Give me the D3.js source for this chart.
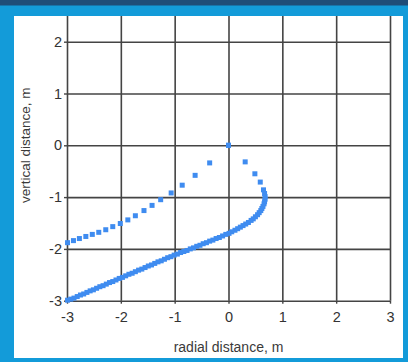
<!DOCTYPE html>
<html>
<head>
<meta charset="utf-8">
<script src="https://cdn.jsdelivr.net/npm/d3@7"></script>
<style>
  body { margin: 0; background: #1f4d78; }
  svg { display: block; }
  text { font-family: "Liberation Sans", Arial, sans-serif; fill: #3a3a3a; }
</style>
</head>
<body>
<div id="chart"></div>
<script>
// tick labels
const xTicks = [-3, -2, -1, 0, 1, 2, 3];
const yTicks = [-3, -2, -1, 0, 1, 2];

// sparse series (x, y in metres)
const sparseX = [0, -0.35, -0.62, -0.86, -1.065, -1.26, -1.42, -1.57, -1.73, -1.87, -2.01, -2.15, -2.28, -2.41, -2.53, -2.65, -2.77, -2.88, -2.99];
const sparseY = [0, -0.34, -0.58, -0.77, -0.92, -1.05, -1.16, -1.26, -1.36, -1.44, -1.51, -1.57, -1.63, -1.68, -1.72, -1.76, -1.80, -1.84, -1.88];

// dense series (x, y in metres)
const denseX = [0, 0.31, 0.49, 0.59, 0.65, 0.67, 0.68, 0.68, 0.67, 0.66, 0.64, 0.62, 0.60, 0.57, 0.54, 0.50, 0.46, 0.42, 0.37, 0.32,
  0.27, 0.22, 0.17, 0.12, 0.06, 0.01, -0.05, -0.11, -0.17, -0.23, -0.29, -0.35, -0.41, -0.47, -0.53, -0.59, -0.65, -0.71, -0.77, -0.83,
  -0.89, -0.95, -1.01, -1.07, -1.13, -1.19, -1.25, -1.31, -1.37, -1.43, -1.49, -1.55, -1.61, -1.67, -1.73, -1.79, -1.85, -1.91, -1.97, -2.03,
  -2.09, -2.15, -2.21, -2.27, -2.33, -2.39, -2.45, -2.51, -2.57, -2.63, -2.69, -2.75, -2.81, -2.87, -2.93, -2.99];
const denseY = [0, -0.32, -0.55, -0.71, -0.86, -0.93, -0.99, -1.04, -1.09, -1.13, -1.18, -1.22, -1.26, -1.30, -1.34, -1.38, -1.42, -1.45, -1.49, -1.52,
  -1.55, -1.58, -1.61, -1.64, -1.67, -1.70, -1.72, -1.75, -1.78, -1.80, -1.83, -1.85, -1.88, -1.90, -1.93, -1.95, -1.98, -2.00, -2.03, -2.05,
  -2.07, -2.10, -2.12, -2.15, -2.17, -2.20, -2.23, -2.25, -2.28, -2.31, -2.33, -2.36, -2.39, -2.41, -2.44, -2.47, -2.49, -2.52, -2.55, -2.57,
  -2.60, -2.63, -2.65, -2.68, -2.71, -2.73, -2.76, -2.79, -2.81, -2.84, -2.87, -2.89, -2.92, -2.95, -2.97, -2.99];

const width = 408, height = 362;

const svg = d3.select("#chart").append("svg")
  .attr("width", width)
  .attr("height", height);

// window frame
svg.append("rect").attr("x", 0).attr("y", 5.5).attr("width", width).attr("height", height - 5.5).attr("fill", "#139bd9");
svg.append("rect").attr("x", 14).attr("y", 16).attr("width", 389).attr("height", 342).attr("fill", "#ffffff");

const plotL = 67, plotR = 390, plotT = 15.8, plotB = 300.7;

const x = d3.scaleLinear().domain([-3, 3]).range([plotL, plotR]);
const y = d3.scaleLinear().domain([-3, 2.5]).range([plotB, plotT]);

svg.append("clipPath").attr("id", "panel")
  .append("rect").attr("x", 14).attr("y", 16).attr("width", 389).attr("height", 342);

const g = svg.append("g").attr("clip-path", "url(#panel)");

// grid lines
g.append("g")
  .attr("transform", `translate(0,${plotB})`)
  .call(d3.axisBottom(x).tickValues(xTicks).tickSize(-(plotB - plotT + 5)).tickFormat(""))
  .call(a => a.select(".domain").remove())
  .selectAll("line").attr("stroke", "#444").attr("stroke-width", 1.6);

g.append("g")
  .attr("transform", `translate(${plotL},0)`)
  .call(d3.axisLeft(y).tickValues(yTicks).tickSize(-(plotR - plotL)).tickFormat(""))
  .call(a => a.select(".domain").remove())
  .selectAll("line").attr("stroke", "#444").attr("stroke-width", 1.6);

const fmt = d => String(d);

// outer ticks + labels
const xAxis = svg.append("g")
  .attr("transform", `translate(0,${plotB})`)
  .call(d3.axisBottom(x).tickValues(xTicks).tickSize(3).tickPadding(8).tickFormat(fmt));
xAxis.select(".domain").remove();
xAxis.selectAll("line").attr("stroke", "#444").attr("stroke-width", 1.4);
xAxis.selectAll("text").attr("font-size", 14.5).style("fill", "#333");

const yAxis = svg.append("g")
  .attr("transform", `translate(${plotL},0)`)
  .call(d3.axisLeft(y).tickValues(yTicks).tickSize(3).tickPadding(2).tickFormat(fmt));
yAxis.select(".domain").remove();
yAxis.selectAll("line").attr("stroke", "#444").attr("stroke-width", 1.4);
yAxis.selectAll("text").attr("font-size", 14.5).style("fill", "#333");

// axis titles
svg.append("text")
  .attr("x", x(0)).attr("y", 351.5)
  .attr("text-anchor", "middle")
  .attr("font-size", 14)
  .text("radial distance, m");

svg.append("text")
  .attr("transform", `translate(29.5,${y(0)}) rotate(-90)`)
  .attr("text-anchor", "middle")
  .attr("font-size", 13.5)
  .text("vertical distance, m");

// points
const pts = sparseX.map((v, i) => ({ x: v, y: sparseY[i] }))
  .concat(denseX.map((v, i) => ({ x: v, y: denseY[i] })));
const s = 5;
svg.append("g").selectAll("rect")
  .data(pts)
  .join("rect")
  .attr("x", d => x(d.x) - s / 2)
  .attr("y", d => y(d.y) - s / 2)
  .attr("width", s)
  .attr("height", s)
  .attr("fill", "#3f8cf0");
</script>
</body>
</html>
